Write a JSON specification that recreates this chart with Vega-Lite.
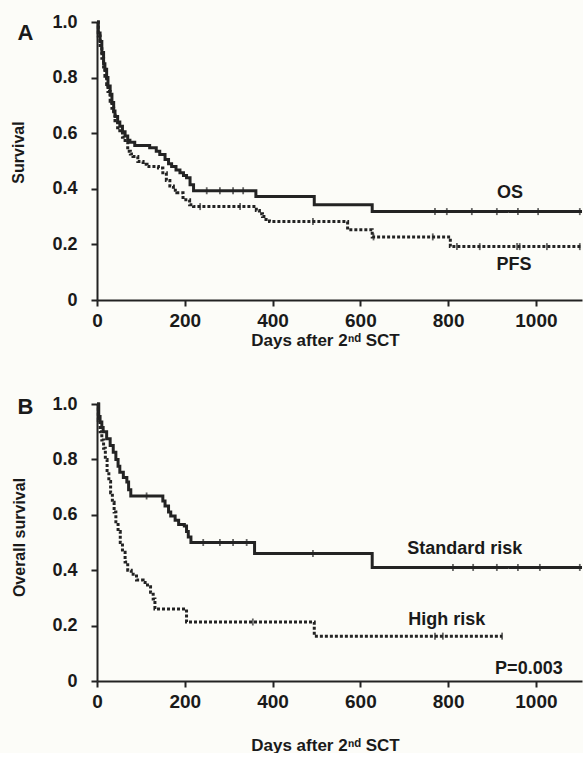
{
  "$schema": "https://vega.github.io/schema/vega-lite/v6.json",
  "background": "#fcfcf8",
  "padding": {"left": 10, "top": 13, "right": 1, "bottom": 0},
  "spacing": 47,
  "config": {
    "view": {"stroke": null},
    "font": "Liberation Sans",
    "axis": {
      "domainColor": "#222222", "domainWidth": 2, "tickColor": "#222222", "tickWidth": 2, "tickSize": 6,
      "labelFont": "Liberation Sans", "labelFontSize": 18, "labelFontWeight": "bold", "labelColor": "#1a1a1a",
      "titleFont": "Liberation Sans", "titleFontWeight": "bold", "titleColor": "#1a1a1a",
      "grid": false, "labelOverlap": false, "labelFlush": false
    },
    "axisY": {"labelPadding": 14},
    "axisX": {"labelPadding": 5, "labelFontSize": 19},
    "text": {"font": "Liberation Sans", "fontWeight": "bold", "fontSize": 18, "color": "#1a1a1a"}
  },
  "datasets": {
    "a_curves": [
      {"group":"OS","day":0,"surv":1.0},{"group":"OS","day":3,"surv":0.96},{"group":"OS","day":7,"surv":0.93},{"group":"OS","day":11,"surv":0.89},{"group":"OS","day":15,"surv":0.85},{"group":"OS","day":18,"surv":0.83},{"group":"OS","day":22,"surv":0.8},{"group":"OS","day":25,"surv":0.77},{"group":"OS","day":30,"surv":0.74},{"group":"OS","day":34,"surv":0.71},{"group":"OS","day":38,"surv":0.68},{"group":"OS","day":41,"surv":0.66},{"group":"OS","day":47,"surv":0.64},{"group":"OS","day":52,"surv":0.625},{"group":"OS","day":58,"surv":0.605},{"group":"OS","day":64,"surv":0.59},{"group":"OS","day":70,"surv":0.575},{"group":"OS","day":75,"surv":0.567},{"group":"OS","day":86,"surv":0.556},{"group":"OS","day":120,"surv":0.548},{"group":"OS","day":135,"surv":0.535},{"group":"OS","day":143,"surv":0.523},{"group":"OS","day":155,"surv":0.505},{"group":"OS","day":163,"surv":0.49},{"group":"OS","day":170,"surv":0.48},{"group":"OS","day":180,"surv":0.468},{"group":"OS","day":189,"surv":0.458},{"group":"OS","day":197,"surv":0.448},{"group":"OS","day":204,"surv":0.44},{"group":"OS","day":212,"surv":0.415},{"group":"OS","day":220,"surv":0.393},{"group":"OS","day":362,"surv":0.372},{"group":"OS","day":495,"surv":0.343},{"group":"OS","day":627,"surv":0.318},{"group":"OS","day":1105,"surv":0.318},
      {"group":"PFS","day":0,"surv":1.0},{"group":"PFS","day":3,"surv":0.95},{"group":"PFS","day":7,"surv":0.91},{"group":"PFS","day":11,"surv":0.87},{"group":"PFS","day":15,"surv":0.83},{"group":"PFS","day":18,"surv":0.805},{"group":"PFS","day":22,"surv":0.775},{"group":"PFS","day":25,"surv":0.75},{"group":"PFS","day":30,"surv":0.715},{"group":"PFS","day":34,"surv":0.69},{"group":"PFS","day":38,"surv":0.665},{"group":"PFS","day":41,"surv":0.645},{"group":"PFS","day":47,"surv":0.62},{"group":"PFS","day":52,"surv":0.603},{"group":"PFS","day":58,"surv":0.585},{"group":"PFS","day":64,"surv":0.567},{"group":"PFS","day":70,"surv":0.535},{"group":"PFS","day":76,"surv":0.525},{"group":"PFS","day":82,"surv":0.516},{"group":"PFS","day":93,"surv":0.498},{"group":"PFS","day":105,"surv":0.488},{"group":"PFS","day":114,"surv":0.48},{"group":"PFS","day":140,"surv":0.475},{"group":"PFS","day":150,"surv":0.458},{"group":"PFS","day":158,"surv":0.43},{"group":"PFS","day":166,"surv":0.41},{"group":"PFS","day":174,"surv":0.395},{"group":"PFS","day":182,"surv":0.386},{"group":"PFS","day":196,"surv":0.361},{"group":"PFS","day":211,"surv":0.343},{"group":"PFS","day":220,"surv":0.336},{"group":"PFS","day":363,"surv":0.322},{"group":"PFS","day":370,"surv":0.31},{"group":"PFS","day":377,"surv":0.3},{"group":"PFS","day":385,"surv":0.29},{"group":"PFS","day":393,"surv":0.282},{"group":"PFS","day":571,"surv":0.253},{"group":"PFS","day":627,"surv":0.227},{"group":"PFS","day":805,"surv":0.192},{"group":"PFS","day":1105,"surv":0.192}
    ],
    "a_censor": [
      {"group":"OS","day":250,"surv":0.393},{"group":"OS","day":280,"surv":0.393},{"group":"OS","day":310,"surv":0.393},{"group":"OS","day":333,"surv":0.393},
      {"group":"OS","day":770,"surv":0.318},{"group":"OS","day":797,"surv":0.318},{"group":"OS","day":854,"surv":0.318},{"group":"OS","day":911,"surv":0.318},{"group":"OS","day":959,"surv":0.318},{"group":"OS","day":1005,"surv":0.318},{"group":"OS","day":1100,"surv":0.318},
      {"group":"PFS","day":235,"surv":0.336},{"group":"PFS","day":326,"surv":0.336},{"group":"PFS","day":492,"surv":0.282},{"group":"PFS","day":630,"surv":0.227},{"group":"PFS","day":765,"surv":0.227},
      {"group":"PFS","day":820,"surv":0.192},{"group":"PFS","day":872,"surv":0.192},{"group":"PFS","day":957,"surv":0.192},{"group":"PFS","day":963,"surv":0.192},{"group":"PFS","day":1025,"surv":0.192},{"group":"PFS","day":1100,"surv":0.192}
    ],
    "a_labels": [
      {"label":"OS","day":941,"surv":0.384},
      {"label":"PFS","day":950,"surv":0.126}
    ],
    "b_curves": [
      {"group":"Standard risk","day":0,"surv":1.0},{"group":"Standard risk","day":4,"surv":0.955},{"group":"Standard risk","day":7,"surv":0.935},{"group":"Standard risk","day":11,"surv":0.915},{"group":"Standard risk","day":14,"surv":0.9},{"group":"Standard risk","day":22,"surv":0.875},{"group":"Standard risk","day":30,"surv":0.85},{"group":"Standard risk","day":37,"surv":0.826},{"group":"Standard risk","day":43,"surv":0.8},{"group":"Standard risk","day":48,"surv":0.775},{"group":"Standard risk","day":52,"surv":0.754},{"group":"Standard risk","day":60,"surv":0.735},{"group":"Standard risk","day":68,"surv":0.718},{"group":"Standard risk","day":72,"surv":0.69},{"group":"Standard risk","day":77,"surv":0.668},{"group":"Standard risk","day":150,"surv":0.65},{"group":"Standard risk","day":155,"surv":0.632},{"group":"Standard risk","day":163,"surv":0.61},{"group":"Standard risk","day":168,"surv":0.596},{"group":"Standard risk","day":178,"surv":0.58},{"group":"Standard risk","day":186,"surv":0.565},{"group":"Standard risk","day":199,"surv":0.56},{"group":"Standard risk","day":204,"surv":0.54},{"group":"Standard risk","day":208,"surv":0.52},{"group":"Standard risk","day":214,"surv":0.5},{"group":"Standard risk","day":359,"surv":0.46},{"group":"Standard risk","day":627,"surv":0.41},{"group":"Standard risk","day":1105,"surv":0.41},
      {"group":"High risk","day":0,"surv":1.0},{"group":"High risk","day":3,"surv":0.94},{"group":"High risk","day":7,"surv":0.9},{"group":"High risk","day":11,"surv":0.87},{"group":"High risk","day":15,"surv":0.84},{"group":"High risk","day":19,"surv":0.8},{"group":"High risk","day":23,"surv":0.76},{"group":"High risk","day":27,"surv":0.72},{"group":"High risk","day":31,"surv":0.68},{"group":"High risk","day":35,"surv":0.645},{"group":"High risk","day":39,"surv":0.61},{"group":"High risk","day":43,"surv":0.575},{"group":"High risk","day":48,"surv":0.54},{"group":"High risk","day":53,"surv":0.5},{"group":"High risk","day":58,"surv":0.465},{"group":"High risk","day":64,"surv":0.43},{"group":"High risk","day":70,"surv":0.4},{"group":"High risk","day":78,"surv":0.385},{"group":"High risk","day":90,"surv":0.365},{"group":"High risk","day":105,"surv":0.356},{"group":"High risk","day":115,"surv":0.34},{"group":"High risk","day":122,"surv":0.32},{"group":"High risk","day":128,"surv":0.296},{"group":"High risk","day":132,"surv":0.26},{"group":"High risk","day":204,"surv":0.213},{"group":"High risk","day":495,"surv":0.162},{"group":"High risk","day":923,"surv":0.162}
    ],
    "b_censor": [
      {"group":"Standard risk","day":113,"surv":0.668},{"group":"Standard risk","day":242,"surv":0.5},{"group":"Standard risk","day":280,"surv":0.5},{"group":"Standard risk","day":310,"surv":0.5},{"group":"Standard risk","day":341,"surv":0.5},{"group":"Standard risk","day":492,"surv":0.46},
      {"group":"Standard risk","day":811,"surv":0.41},{"group":"Standard risk","day":857,"surv":0.41},{"group":"Standard risk","day":911,"surv":0.41},{"group":"Standard risk","day":959,"surv":0.41},{"group":"Standard risk","day":1009,"surv":0.41},{"group":"Standard risk","day":1100,"surv":0.41},
      {"group":"High risk","day":355,"surv":0.213},{"group":"High risk","day":770,"surv":0.162},{"group":"High risk","day":788,"surv":0.162},{"group":"High risk","day":923,"surv":0.162}
    ],
    "b_labels": [
      {"label":"Standard risk","day":838,"surv":0.477},
      {"label":"High risk","day":797,"surv":0.22},
      {"label":"P=0.003","day":984,"surv":0.043}
    ]
  },
  "vconcat": [
    {
      "width": 485,
      "height": 278,
      "resolve": {"axis": {"x": "independent"}},
      "layer": [
        {
          "data": {"name": "a_curves"},
          "mark": {"type": "line", "interpolate": "step-after", "strokeWidth": 3, "color": "#232323"},
          "encoding": {
            "x": {"field": "day", "type": "quantitative", "scale": {"domain": [0, 1105], "nice": false},
                  "axis": {"orient": "bottom", "values": [0, 200, 400, 600, 800, 1000], "format": "d", "title": "Days after 2ⁿᵈ SCT", "titleFontSize": 17, "titleX": 228, "titleY": 40, "titleBaseline": "middle", "titleAlign": "center"}},
            "y": {"field": "surv", "type": "quantitative", "scale": {"domain": [0, 1], "nice": false},
                  "axis": {"values": [0, 0.2, 0.4, 0.6, 0.8, 1.0], "labelExpr": "datum.value == 0 ? '0' : format(datum.value, '.1f')", "title": "Survival", "titleFontSize": 16, "titleX": -79, "titleY": 130, "titleBaseline": "middle", "titleAlign": "center", "titleAngle": -90}},
            "detail": {"field": "group"},
            "strokeDash": {"field": "group", "type": "nominal", "scale": {"domain": ["OS", "PFS"], "range": [[1, 0], [3, 2]]}, "legend": null}
          }
        },
        {
          "data": {"name": "a_censor"},
          "mark": {"type": "tick", "orient": "vertical", "size": 7, "thickness": 1.8, "color": "#232323"},
          "encoding": {
            "x": {"field": "day", "type": "quantitative", "axis": null},
            "y": {"field": "surv", "type": "quantitative"}
          }
        },
        {
          "data": {"name": "a_labels"},
          "mark": {"type": "text", "align": "center", "baseline": "middle"},
          "encoding": {
            "x": {"field": "day", "type": "quantitative",
                  "axis": {"orient": "top", "title": "A", "titleFontSize": 22, "titleX": -72, "titleY": 17, "titleBaseline": "alphabetic", "titleAlign": "center", "domain": false, "ticks": false, "labels": false}},
            "y": {"field": "surv", "type": "quantitative"},
            "text": {"field": "label"}
          }
        }
      ]
    },
    {
      "width": 485,
      "height": 277,
      "resolve": {"axis": {"x": "independent"}},
      "layer": [
        {
          "data": {"name": "b_curves"},
          "mark": {"type": "line", "interpolate": "step-after", "strokeWidth": 3, "color": "#232323"},
          "encoding": {
            "x": {"field": "day", "type": "quantitative", "scale": {"domain": [0, 1105], "nice": false},
                  "axis": {"orient": "bottom", "values": [0, 200, 400, 600, 800, 1000], "format": "d", "title": "Days after 2ⁿᵈ SCT", "titleFontSize": 17, "titleX": 228, "titleY": 64, "titleBaseline": "middle", "titleAlign": "center"}},
            "y": {"field": "surv", "type": "quantitative", "scale": {"domain": [0, 1], "nice": false},
                  "axis": {"values": [0, 0.2, 0.4, 0.6, 0.8, 1.0], "labelExpr": "datum.value == 0 ? '0' : format(datum.value, '.1f')", "title": "Overall survival", "titleFontSize": 16, "titleX": -78, "titleY": 133, "titleBaseline": "middle", "titleAlign": "center", "titleAngle": -90}},
            "detail": {"field": "group"},
            "strokeDash": {"field": "group", "type": "nominal", "scale": {"domain": ["Standard risk", "High risk"], "range": [[1, 0], [3, 2]]}, "legend": null}
          }
        },
        {
          "data": {"name": "b_censor"},
          "mark": {"type": "tick", "orient": "vertical", "size": 7, "thickness": 1.8, "color": "#232323"},
          "encoding": {
            "x": {"field": "day", "type": "quantitative", "axis": null},
            "y": {"field": "surv", "type": "quantitative"}
          }
        },
        {
          "data": {"name": "b_labels"},
          "mark": {"type": "text", "align": "center", "baseline": "middle"},
          "encoding": {
            "x": {"field": "day", "type": "quantitative",
                  "axis": {"orient": "top", "title": "B", "titleFontSize": 22, "titleX": -72, "titleY": 9, "titleBaseline": "alphabetic", "titleAlign": "center", "domain": false, "ticks": false, "labels": false}},
            "y": {"field": "surv", "type": "quantitative"},
            "text": {"field": "label"}
          }
        }
      ]
    }
  ]
}
